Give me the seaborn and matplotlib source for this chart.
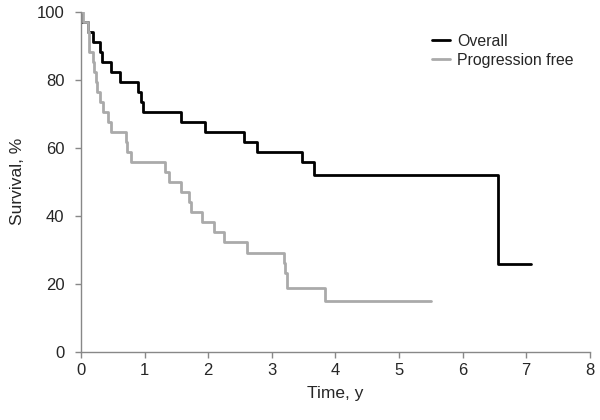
import numpy as np
import pandas as pd
import matplotlib
matplotlib.use("Agg")
import matplotlib.pyplot as plt
import seaborn as sns

# Kaplan-Meier step points (time in years, survival %)
os_time = [0, 0.01, 0.11, 0.19, 0.30, 0.33, 0.47, 0.62, 0.89, 0.95, 0.98,
           1.57, 1.95, 2.56, 2.76, 3.47, 3.66, 6.56, 7.07]
os_surv = [100, 97.1, 94.1, 91.2, 88.2, 85.3, 82.4, 79.4, 76.5, 73.5, 70.6,
           67.6, 64.7, 61.8, 58.8, 55.9, 52.1, 26.0, 26.0]

pfs_time = [0, 0.03, 0.11, 0.12, 0.13, 0.19, 0.21, 0.23, 0.25, 0.30, 0.34,
            0.43, 0.47, 0.71, 0.73, 0.79, 1.32, 1.38, 1.57, 1.70, 1.73,
            1.90, 2.09, 2.25, 2.61, 3.19, 3.21, 3.24, 3.84, 5.50]
pfs_surv = [100, 97.1, 94.1, 91.2, 88.2, 85.3, 82.4, 79.4, 76.5, 73.5, 70.6,
            67.6, 64.7, 61.8, 58.8, 55.9, 52.9, 50.0, 47.1, 44.1, 41.2,
            38.2, 35.3, 32.4, 29.2, 26.1, 23.1, 18.7, 15.1, 15.1]

x_ticks = [0, 1, 2, 3, 4, 5, 6, 7, 8]
y_ticks = [0, 20, 40, 60, 80, 100]

sns.set_style("white")
plt.rcParams['font.family'] = ['Liberation Sans', 'DejaVu Sans']

fig = plt.figure(figsize=(6, 4.2), dpi=100)
ax = fig.add_axes([0.135, 0.162, 0.848, 0.81])

os_df = pd.DataFrame({'t': os_time, 's': os_surv})
pfs_df = pd.DataFrame({'t': pfs_time, 's': pfs_surv})

sns.lineplot(data=os_df, x='t', y='s', ax=ax, drawstyle='steps-post',
             color='black', lw=2, label='Overall', estimator=None)
sns.lineplot(data=pfs_df, x='t', y='s', ax=ax, drawstyle='steps-post',
             color='#aaaaaa', lw=2, label='Progression free', estimator=None)

ax.set_xlim(0, 8)
ax.set_ylim(0, 100)
ax.set_xticks(x_ticks)
ax.set_yticks(y_ticks)
ax.set_xlabel('Time, y', fontsize=12.5, labelpad=6)
ax.set_ylabel('Survival, %', fontsize=12.5, labelpad=8)
ax.tick_params(axis='both', labelsize=12, length=4, width=1, color='#888888',
               direction='out', bottom=True, left=True)
ax.tick_params(axis='y', pad=8)
ax.tick_params(axis='x', pad=4)
for side in ['top', 'right']:
    ax.spines[side].set_visible(False)
for side in ['left', 'bottom']:
    ax.spines[side].set_color('#888888')
    ax.spines[side].set_linewidth(1)

ax.legend(loc='upper left', bbox_to_anchor=(424 / 600, 1 - 26 / 420),
          bbox_transform=fig.transFigure, frameon=False, borderpad=0,
          fontsize=11.4, handlelength=1.15, handletextpad=0.45,
          labelspacing=0.25)

fig.savefig('out.png', dpi=100)
